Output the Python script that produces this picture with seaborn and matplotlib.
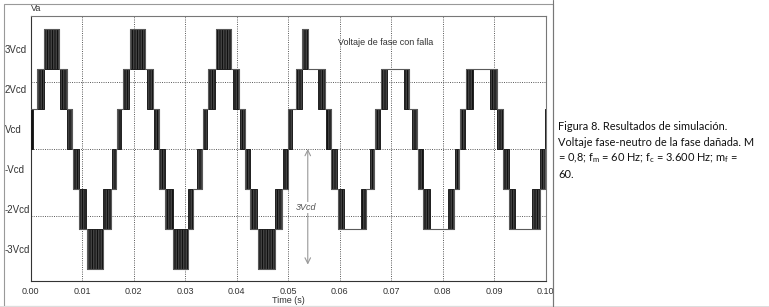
import numpy as np
import pandas as pd
import matplotlib.pyplot as plt
import seaborn as sns
from matplotlib.patches import Rectangle
from matplotlib.lines import Line2D

# --- Data (time in s, voltage in Vcd units) ---
# outline of the staircase (upper envelope on + half cycles, lower on - half cycles)
STEP_T = [0.0000, 0.0012, 0.0025, 0.0054, 0.0070, 0.0081, 0.0083, 0.0094, 0.0109, 0.0140, 0.0155, 0.0166,
          0.0167, 0.0180, 0.0193, 0.0222, 0.0238, 0.0250, 0.0261, 0.0277, 0.0306, 0.0316, 0.0333,
          0.0334, 0.0345, 0.0360, 0.0388, 0.0405, 0.0416, 0.0417, 0.0426, 0.0442, 0.0474, 0.0487, 0.0499,
          0.0500, 0.0515, 0.0527, 0.0539, 0.0571, 0.0583, 0.0584, 0.0597, 0.0652, 0.0667,
          0.0669, 0.0680, 0.0735, 0.0750, 0.0753, 0.0762, 0.0822, 0.0832,
          0.0834, 0.0845, 0.0906, 0.0917, 0.0918, 0.0929, 0.0988, 0.0999, 0.1000]
STEP_V = [1, 2, 3, 2, 1, 0, -1, -2, -3, -2, -1, 0,
          1, 2, 3, 2, 1, -1, -2, -3, -2, -1, 0,
          1, 2, 3, 2, 1, 0, -1, -2, -3, -2, -1, 0,
          1, 2, 3, 2, 1, 0, -1, -2, -1, 0,
          1, 2, 1, 0, -1, -2, -1, 0,
          1, 2, 1, 0, -1, -2, -1, 0, 1]

# PWM switching bands: start, end and lower level (switches between lo and lo+1)
BAND_T0 = [0.0000, 0.0012, 0.0025, 0.0057, 0.0070, 0.0083, 0.0094, 0.0109, 0.0140, 0.0157,
           0.0167, 0.0180, 0.0193, 0.0225, 0.0239, 0.0250, 0.0261, 0.0277, 0.0306, 0.0322,
           0.0334, 0.0345, 0.0360, 0.0392, 0.0406, 0.0417, 0.0426, 0.0442, 0.0474, 0.0489,
           0.0500, 0.0515, 0.0527, 0.0558, 0.0573, 0.0584, 0.0597, 0.0641, 0.0659,
           0.0669, 0.0680, 0.0725, 0.0740, 0.0753, 0.0762, 0.0811, 0.0824,
           0.0834, 0.0845, 0.0892, 0.0906, 0.0918, 0.0929, 0.0973, 0.0989, 0.0999]
BAND_T1 = [0.0005, 0.0025, 0.0054, 0.0070, 0.0081, 0.0093, 0.0107, 0.0140, 0.0155, 0.0166,
           0.0175, 0.0191, 0.0222, 0.0238, 0.0250, 0.0261, 0.0276, 0.0306, 0.0316, 0.0333,
           0.0343, 0.0358, 0.0388, 0.0405, 0.0416, 0.0426, 0.0440, 0.0474, 0.0487, 0.0499,
           0.0507, 0.0526, 0.0539, 0.0571, 0.0583, 0.0594, 0.0608, 0.0652, 0.0667,
           0.0679, 0.0691, 0.0735, 0.0750, 0.0762, 0.0775, 0.0822, 0.0832,
           0.0843, 0.0858, 0.0906, 0.0917, 0.0929, 0.0940, 0.0988, 0.0999, 0.1000]
BAND_LO = [0, 1, 2, 1, 0, -1, -2, -3, -2, -1,
           0, 1, 2, 1, 0, -1, -2, -3, -2, -1,
           0, 1, 2, 1, 0, -1, -2, -3, -2, -1,
           0, 1, 2, 1, 0, -1, -2, -2, -1,
           0, 1, 1, 0, -1, -2, -2, -1,
           0, 1, 1, 0, -1, -2, -2, -1, 0]

Y_TICKS = [2.5, 1.5, 0.5, -0.5, -1.5, -2.5]
Y_LABELS = ["3Vcd", "2Vcd", "Vcd", "-Vcd", "-2Vcd", "-3Vcd"]
X_TICKS = [0.00, 0.01, 0.02, 0.03, 0.04, 0.05, 0.06, 0.07, 0.08, 0.09, 0.10]
GRID_Y = [-5 / 3, 0, 5 / 3]

CAPTION = [
    "Figura 8. Resultados de simulación.",
    "Voltaje fase-neutro de la fase dañada. M",
    r"= 0,8; f$_\mathregular{m}$ = 60 Hz; f$_\mathregular{c}$ = 3.600 Hz; m$_\mathregular{f}$ =",
    "60.",
]

sns.set_style("white")
plt.rcParams["font.family"] = ["Liberation Sans", "DejaVu Sans"]
plt.rcParams["hatch.linewidth"] = 0.9

W, H = 769, 307
fig = plt.figure(figsize=(W / 100, H / 100), dpi=100)
ax = fig.add_axes([30.7 / W, 1 - 281 / H, 515 / W, 265.3 / H])

# PWM bands
for t0, t1, lo in zip(BAND_T0, BAND_T1, BAND_LO):
    ax.fill_between([t0, t1], [lo, lo], [lo + 1, lo + 1], facecolor="#858585",
                    edgecolor="#111111", hatch="|" * 10, linewidth=0.6, zorder=3)

# staircase outline
trace = pd.DataFrame({"t": STEP_T, "v": STEP_V})
sns.lineplot(data=trace, x="t", y="v", ax=ax, estimator=None, sort=False,
             drawstyle="steps-post", color="#5a5a5a", linewidth=0.8, zorder=4)

# dotted grid
for x in X_TICKS[1:-1]:
    ax.axvline(x, color="#444444", linestyle=(0, (1.2, 1.5)), linewidth=0.6, zorder=1)
for y in GRID_Y:
    ax.axhline(y, color="#444444", linestyle=(0, (1.2, 1.5)), linewidth=0.6, zorder=1)

ax.set_xlim(0, 0.10)
ax.set_ylim(-3.3, 3.33)
ax.set_xticks(X_TICKS)
ax.set_xticklabels([f"{x:.2f}" for x in X_TICKS], fontsize=6.5, color="#333333")
ax.set_yticks(Y_TICKS)
ax.set_yticklabels(Y_LABELS, fontsize=7, color="#333333", ha="left")
ax.tick_params(axis="y", length=0, pad=18.5)
ax.tick_params(axis="x", length=0, pad=4.0)
ax.set_xlabel("Time (s)", fontsize=6.5, color="#333333", labelpad=0.5)
ax.set_ylabel("")
for s in ax.spines.values():
    s.set_color("#777777")
    s.set_linewidth(0.8)
ax.spines["left"].set_color("#333333")
ax.spines["bottom"].set_color("#333333")

ax.text(0.0, 1.012, "Va", transform=ax.transAxes, fontsize=6.5, color="#333333", va="bottom")
ax.text(0.0597, 2.65, "Voltaje de fase con falla", fontsize=6.5, color="#333333", va="center")

# 3Vcd span arrow
ax.annotate("", xy=(0.0538, -2.89), xytext=(0.0538, 0.0),
            arrowprops=dict(arrowstyle="<->", color="#999999", lw=0.8, shrinkA=0, shrinkB=0), zorder=5)
ax.text(0.0534, -1.46, "3Vcd", fontsize=6.5, style="italic", color="#555555", ha="center", va="center",
        bbox=dict(facecolor="white", edgecolor="none", pad=0.5), zorder=6)

# panel frames
fig.add_artist(Rectangle((3.5 / W, 1 - 305.5 / H), 549.5 / W, 301.5 / H, transform=fig.transFigure,
                         fill=False, edgecolor="#999999", linewidth=0.8))
fig.add_artist(Line2D([553 / W, 553 / W], [0, 1], transform=fig.transFigure, color="#777777", linewidth=0.8))
fig.add_artist(Rectangle((0, 0), 1, 1.5 / H, transform=fig.transFigure, facecolor="#dddddd", edgecolor="none"))

# caption
for i, line in enumerate(CAPTION):
    fig.text(558 / W, 1 - (126 + 16 * i) / H, line, fontsize=7.9, color="#111111",
             family=["Lato", "DejaVu Sans"], va="center", ha="left")

fig.savefig("out.png", dpi=100)
